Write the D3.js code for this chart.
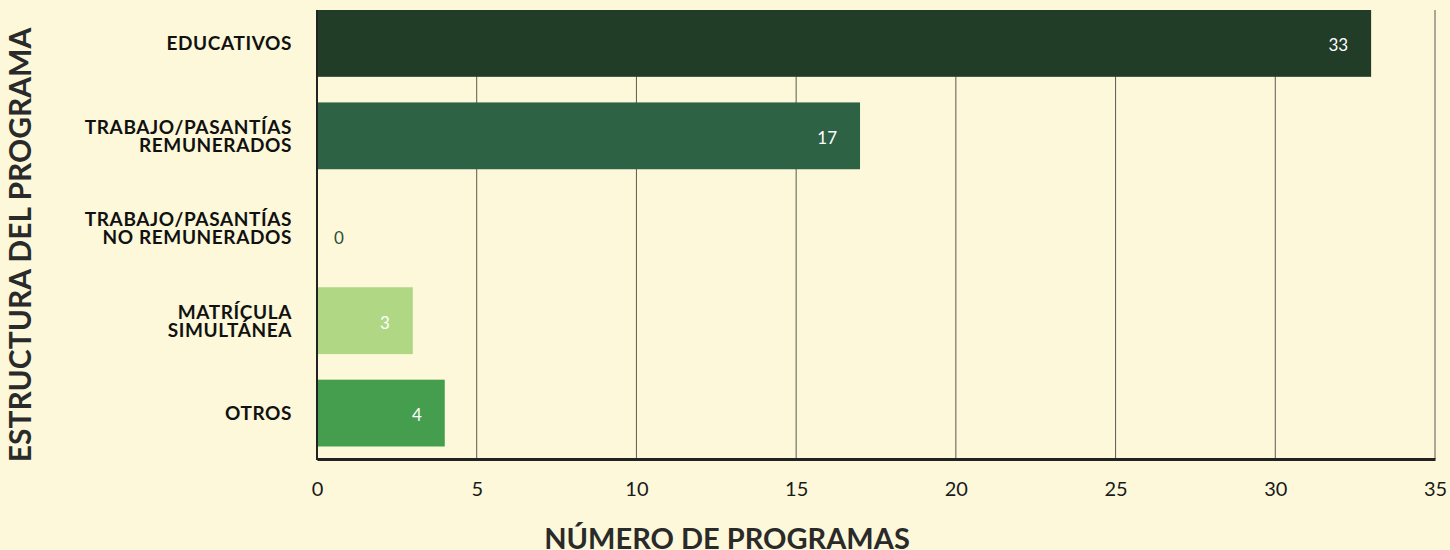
<!DOCTYPE html>
<html>
<head>
<meta charset="utf-8">
<script src="https://cdn.jsdelivr.net/npm/d3@7"></script>
<style>
  body { margin: 0; background: #fcf8d9; }
  svg { display: block; }
</style>
</head>
<body>
<script>
// categories and values
var categories = [
  ['EDUCATIVOS'],
  ['TRABAJO/PASANTÍAS', 'REMUNERADOS'],
  ['TRABAJO/PASANTÍAS', 'NO REMUNERADOS'],
  ['MATRÍCULA', 'SIMULTÁNEA'],
  ['OTROS']
];
var values = [33, 17, 0, 3, 4];
var barColors = ['#213d27', '#2e6244', '#2e6244', '#b0d884', '#459e4d'];
var xTicks = [0, 5, 10, 15, 20, 25, 30, 35];

var chart = {
  width: 1450,
  height: 550,
  left: 317,
  right: 1435,
  top: 10,
  bottom: 459,
  font: 'Lato, "Open Sans", sans-serif'
};

var svg = d3.select('body').append('svg')
  .attr('width', chart.width)
  .attr('height', chart.height)
  .style('background-color', '#fcf8d9');

var x = d3.scaleLinear().domain([0, 35]).range([chart.left, chart.right]);
var y = d3.scaleBand()
  .domain(d3.range(categories.length))
  .range([chart.top, 446.5])
  .paddingInner(0.277)
  .paddingOuter(0);

// grid lines
svg.append('g')
  .selectAll('line')
  .data(xTicks.slice(1))
  .enter().append('line')
  .attr('x1', function(d) { return x(d); })
  .attr('x2', function(d) { return x(d); })
  .attr('y1', chart.top)
  .attr('y2', chart.bottom)
  .attr('stroke', '#5a5a52')
  .attr('stroke-width', 1);

// bars
svg.append('g')
  .selectAll('rect')
  .data(values)
  .enter().append('rect')
  .attr('x', x(0))
  .attr('y', function(d, i) { return y(i); })
  .attr('width', function(d) { return x(d) - x(0); })
  .attr('height', y.bandwidth())
  .attr('fill', function(d, i) { return barColors[i]; });

// value labels
svg.append('g')
  .selectAll('text')
  .data(values)
  .enter().append('text')
  .attr('x', function(d) { return d === 0 ? x(0) + 17 : x(d) - 23; })
  .attr('y', function(d, i) { return y(i) + y.bandwidth() / 2 + (d === 0 ? 10 : 2); })
  .attr('dy', '0.35em')
  .attr('text-anchor', function(d) { return d === 0 ? 'start' : 'end'; })
  .attr('fill', function(d) { return d === 0 ? '#2e4d35' : '#ffffff'; })
  .style('font-family', chart.font)
  .style('font-size', '17px')
  .text(function(d) { return d; });

// axes lines
svg.append('line')
  .attr('x1', chart.left).attr('x2', chart.left)
  .attr('y1', chart.top).attr('y2', chart.bottom + 1)
  .attr('stroke', '#222').attr('stroke-width', 2);

var xAxis = svg.append('g')
  .attr('transform', 'translate(0,' + chart.bottom + ')')
  .call(d3.axisBottom(x).tickValues(xTicks).tickSize(0).tickPadding(23));
xAxis.select('.domain').attr('stroke', '#222').attr('stroke-width', 3);
xAxis.selectAll('text')
  .attr('fill', '#1a1a1a')
  .style('font-family', chart.font)
  .style('font-size', '20px');

// category labels
var lineGap = 18;
var labels = svg.append('g')
  .selectAll('text')
  .data(categories)
  .enter().append('text')
  .attr('x', 292)
  .attr('y', function(d, i) { return y(i) + y.bandwidth() / 2; })
  .attr('text-anchor', 'end')
  .attr('fill', '#111')
  .style('font-family', chart.font)
  .style('font-weight', 'bold')
  .style('font-size', '19px')
  .style('letter-spacing', '0.6px');

labels.each(function(d) {
  var t = d3.select(this);
  var start = -(d.length - 1) * lineGap / 2;
  d.forEach(function(line, k) {
    t.append('tspan')
      .attr('x', 292)
      .attr('dy', k === 0 ? (start + 7) + 'px' : lineGap + 'px')
      .text(line);
  });
});

// axis titles
svg.append('text')
  .attr('x', 727)
  .attr('y', 549)
  .attr('text-anchor', 'middle')
  .attr('fill', '#2a2a2a')
  .style('font-family', chart.font)
  .style('font-weight', 'bold')
  .style('font-size', '29px')
  .text('NÚMERO DE PROGRAMAS');

svg.append('text')
  .attr('transform', 'translate(31,245) rotate(-90)')
  .attr('text-anchor', 'middle')
  .attr('fill', '#2a2a2a')
  .style('font-family', chart.font)
  .style('font-weight', 'bold')
  .style('font-size', '30px')
  .text('ESTRUCTURA DEL PROGRAMA');
</script>
</body>
</html>
